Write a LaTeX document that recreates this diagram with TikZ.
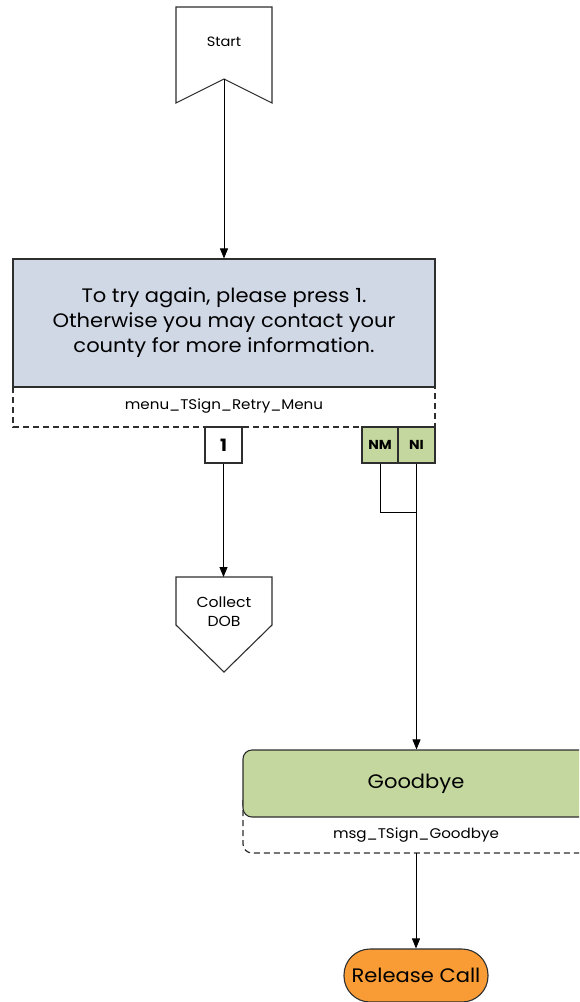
\documentclass[tikz,border=0pt]{standalone}
\usepackage{fontspec}
\setmainfont[FakeStretch=1.08]{Poppins}
\usetikzlibrary{arrows.meta}
\definecolor{menufill}{HTML}{D0D8E6}
\definecolor{greenfill}{HTML}{C4D79E}
\definecolor{orangefill}{HTML}{F99C35}
\definecolor{edge}{HTML}{2E2E2E}
\tikzset{
  outline/.style={draw=edge, line width=1.1pt},
  dashbox/.style={draw=edge, line width=1.2pt, dash pattern=on 6pt off 4pt},
  flow/.style={draw=black, line width=0.8pt, -{Triangle[length=10pt,width=8pt]}},
  wire/.style={draw=black, line width=0.8pt},
  keybox/.style={outline, minimum width=37pt, minimum height=36pt, inner sep=0pt, font=\fontsize{17}{19}\selectfont\bfseries},
  small/.style={font=\fontsize{14}{16}\selectfont},
  big/.style={font=\fontsize{19.5}{25}\selectfont},
}
\begin{document}
\begin{tikzpicture}[x=1pt,y=-1pt]
\useasboundingbox (0,0) rectangle (579,1002);
\begin{scope}
\clip (0,0) rectangle (579,1002);

% Start banner
\coordinate (sTL) at (176,7);
\coordinate (sTR) at (272,7);
\coordinate (sBR) at (272,103);
\coordinate (sBL) at (176,103);
\coordinate (notch) at (224,79);
\draw[outline, fill=white] (sTL) -- (sTR) -- (sBR) -- (notch) -- (sBL) -- cycle;
\node[font=\fontsize{13.5}{16}\selectfont] (start) at (224,42) {Start};

% Retry menu
\draw[dashbox, fill=white] (13,387) rectangle (435,427);
\node[outline, fill=menufill, minimum width=422pt, minimum height=128pt, inner sep=0pt,
      align=center, big] (menu) at (224,323)
  {To try again, please press 1.\\Otherwise you may contact your\\county for more information.};
\node[small] (menuid) at (224,406) {menu\_TSign\_Retry\_Menu};

% Key boxes
\node[keybox, fill=white] (k1) at (223.5,445) {1};
\node[keybox, fill=greenfill, minimum width=36pt, font=\fontsize{13}{15}\selectfont\bfseries] (knm) at (380,445) {NM};
\node[keybox, fill=greenfill, font=\fontsize{13}{15}\selectfont\bfseries] (kni) at (416.5,445) {NI};

% Collect DOB
\coordinate (cTL) at (176,577);
\coordinate (cTR) at (272,577);
\coordinate (cR) at (272,625);
\coordinate (cL) at (176,625);
\coordinate (cTip) at (224,672);
\draw[outline, fill=white] (cTL) -- (cTR) -- (cR) -- (cTip) -- (cL) -- cycle;
\node[align=center, font=\fontsize{14.5}{19}\selectfont] (dob) at (224,612) {Collect\\DOB};

% Goodbye message
\draw[dashbox, fill=white, rounded corners=9pt] (243,800) -- (243,853) -- (589,853) -- (589,800);
\node[outline, fill=greenfill, rounded corners=9pt, minimum width=346pt, minimum height=67pt,
      inner sep=0pt, big] (bye) at (416,783.5) {Goodbye};
\node[small] (byeid) at (416,835) {msg\_TSign\_Goodbye};

% Release call
\node[outline, fill=orangefill, rounded corners=26pt, minimum width=144pt, minimum height=53pt,
      inner sep=0pt, big] (release) at (416,975.5) {Release Call};

% Connectors
\draw[flow] (notch) -- (menu.north);
\draw[flow] (k1.south) -- (cTL -| k1.south);
\coordinate (join) at (knm.south |- 0,512);
\draw[wire] (knm.south) -- (join) -- (join -| kni.south);
\draw[flow] (kni.south) -- (bye.north -| kni.south);
\coordinate (byebottom) at (416,853);
\draw[flow] (byebottom) -- (release.north);
\end{scope}
\end{tikzpicture}
\end{document}
